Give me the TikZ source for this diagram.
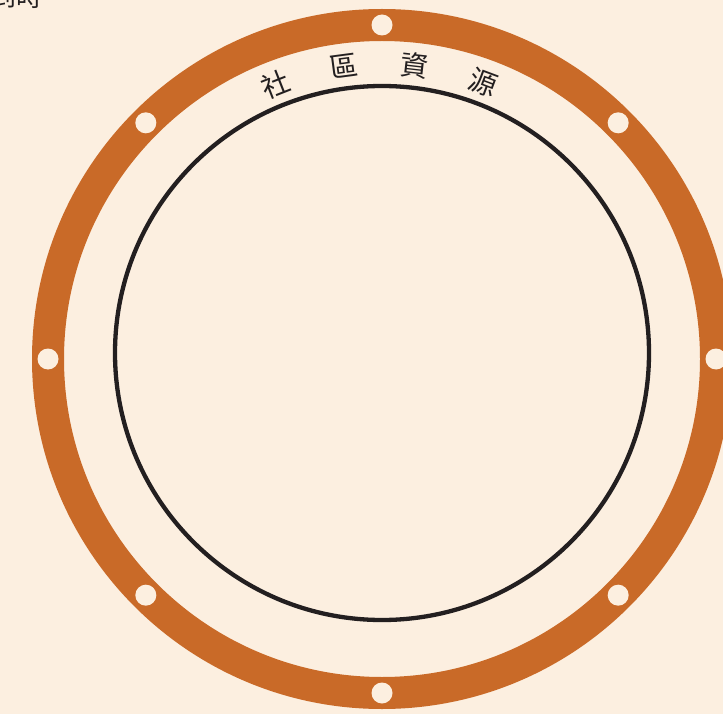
\documentclass[tikz,border=0pt]{standalone}
\usepackage{fontspec}
\newfontfamily\cjk{Noto Sans CJK TC}
\usetikzlibrary{calc}
\definecolor{bg}{HTML}{FCEFE0}
\definecolor{ringc}{HTML}{C96A28}
\definecolor{ink}{HTML}{231F20}
\tikzset{
  ringline/.style={draw=ringc, line width=32pt},
  holedot/.style={fill=bg},
  innerring/.style={draw=ink, line width=4.3pt},
  arclabel/.style={font=\cjk\fontsize{28}{28}\selectfont, text=ink, inner sep=0pt}
}
\begin{document}
\begin{tikzpicture}[x=1pt,y=-1pt]
\useasboundingbox (0,0) rectangle (723,714);
\fill[bg] (0,0) rectangle (723,714);
\coordinate (c) at (382,359);
\coordinate (c2) at (382,353);
\path[ringline] (c) circle[radius=334];
\foreach \a in {0,45,...,315}{
  \fill[holedot] ($(c)+(\a:334)$) circle[radius=10.5];
}
\path[innerring] (c2) circle[radius=267];
\foreach \t/\a [count=\i] in {社/111.5,區/97.5,資/83.5,源/69.5}{
  \node[arclabel, rotate=\a-90] (lab\i) at ($(c2)+(-\a:289)$) {\t};
}
\node[font=\cjk\fontsize{26}{26}\selectfont, text=ink, inner sep=0pt, anchor=base east] (cut) at (43,7) {到時};
\end{tikzpicture}
\end{document}
